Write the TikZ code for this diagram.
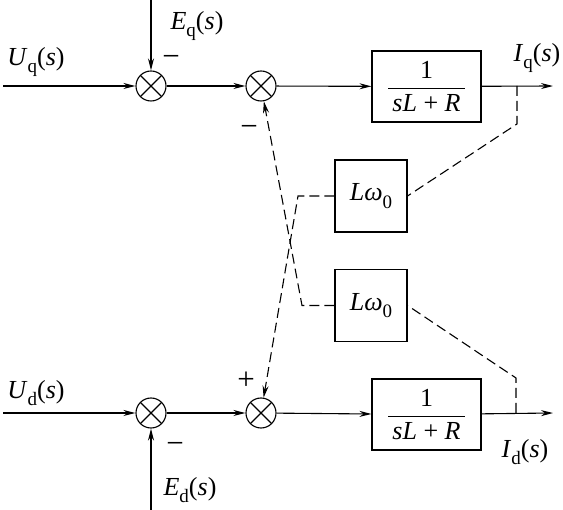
\documentclass[tikz,border=0pt]{standalone}
\usepackage{amsmath}
\usepackage{fontspec}
\setmainfont{Liberation Serif}
\usetikzlibrary{arrows.meta}
\newcommand{\vv}[1]{\textit{#1}}
\newcommand{\sbx}[1]{\raisebox{-0.28em}{\fontsize{19}{20}\selectfont #1}}
\begin{document}
\begin{tikzpicture}[x=1pt,y=-1pt,
  every node/.style={font=\fontsize{26}{30}\selectfont},
  arr/.style={line width=1.1pt,-{Stealth[length=12pt,width=6pt]}},
  dsh/.style={line width=1.1pt,dash pattern=on 10pt off 5pt},
  darr/.style={dsh,-{Stealth[length=12pt,width=6pt]}},
  sumj/.style={circle,draw,line width=1.1pt,minimum size=30pt,inner sep=0pt,
    path picture={\draw[line width=1.1pt] (path picture bounding box.north east) -- (path picture bounding box.south west)
      (path picture bounding box.north west) -- (path picture bounding box.south east);}},
  blk/.style={draw,line width=1.1pt,minimum width=109pt,minimum height=71pt,inner sep=0pt},
  gain/.style={draw,line width=1.1pt,minimum width=72pt,minimum height=72pt,inner sep=0pt},
  lbl/.style={inner sep=0pt},
  sgn/.style={inner sep=0pt,font=\fontsize{31}{34}\selectfont}]
\useasboundingbox (0,0) rectangle (563,510);
% top row
\node[sumj] (s1) at (151,86) {};
\node[sumj] (s2) at (261,86) {};
\node[blk] (b1) at (426.5,86.5) {$\dfrac{\text{1}}{\,\text{\vv{sL} + \vv{R}}\,}$};
\coordinate (uqin) at (3,86);
\coordinate (eqin) at (151,0);
\coordinate (qout) at (553,86);
\coordinate (tq) at (517,86);
\coordinate (tq2) at (517,124);
% bottom row
\node[sumj] (s3) at (151,413) {};
\node[sumj] (s4) at (261,413) {};
\node[blk] (b2) at (426.5,414.5) {$\dfrac{\text{1}}{\,\text{\vv{sL} + \vv{R}}\,}$};
\coordinate (udin) at (3,413);
\coordinate (edin) at (151,510);
\coordinate (dout) at (553,413);
\coordinate (td) at (516,413);
\coordinate (td2) at (516,378);
% gains
\node[gain] (l1) at (371,196) {\vv{Lω}\sbx{0}};
\node[gain] (l2) at (371,305.5) {\vv{Lω}\sbx{0}};
\coordinate (c1) at (298,196);
\coordinate (c2) at (302,305.5);
% solid connectors
\draw[arr] (uqin) -- (s1);
\draw[arr] (eqin) -- (s1);
\draw[arr] (s1) -- (s2);
\draw[arr] (s2) -- (b1);
\draw[arr] (b1) -- (qout);
\draw[arr] (udin) -- (s3);
\draw[arr] (edin) -- (s3);
\draw[arr] (s3) -- (s4);
\draw[arr] (s4) -- (b2);
\draw[arr] (b2) -- (dout);
% dashed cross couplings
\draw[dsh] (tq) -- (tq2) -- (l1.east);
\draw[darr] (l1.west) -- (c1) -- (s4);
\draw[dsh] (td) -- (td2) -- (l2.east);
\draw[darr] (l2.west) -- (c2) -- (s2);
% labels
\node[lbl] at (36,62) {\vv{U}\sbx{q}(\vv{s})};
\node[lbl] at (197,26) {\vv{E}\sbx{q}(\vv{s})};
\node[sgn] at (171,61) {−};
\node[sgn] at (249,131) {−};
\node[lbl] at (537,58) {\vv{I}\sbx{q}(\vv{s})};
\node[lbl] at (36,393) {\vv{U}\sbx{d}(\vv{s})};
\node[sgn] at (246,381) {+};
\node[sgn] at (175,448) {−};
\node[lbl] at (190,490) {\vv{E}\sbx{d}(\vv{s})};
\node[lbl] at (525,452) {\vv{I}\sbx{d}(\vv{s})};
\end{tikzpicture}
\end{document}
